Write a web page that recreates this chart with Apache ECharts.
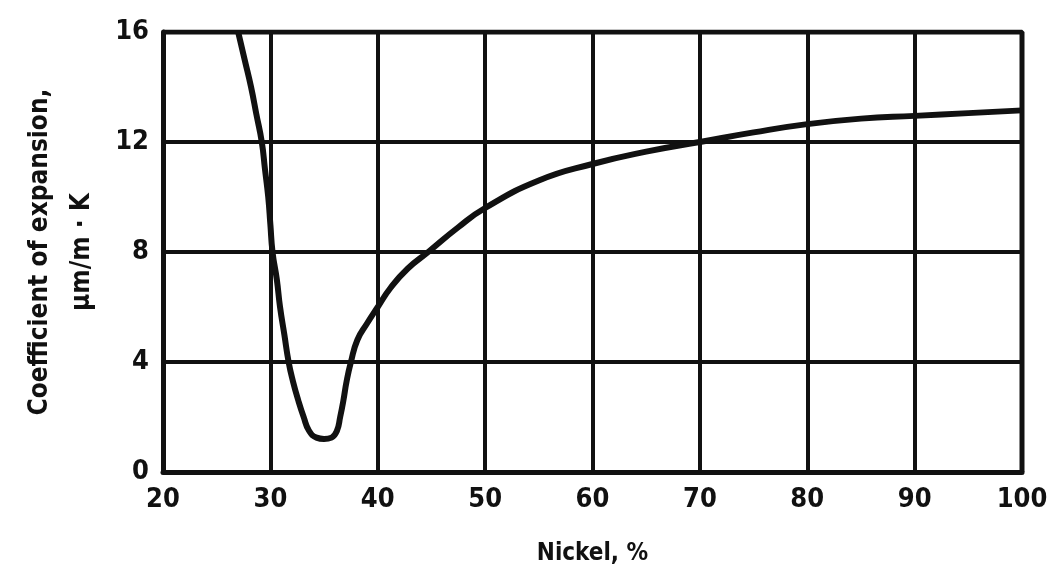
<!DOCTYPE html>
<html>
<head>
<meta charset="utf-8">
<script src="https://cdn.jsdelivr.net/npm/echarts@6/dist/echarts.min.js"></script>
<style>
  html, body { margin: 0; padding: 0; background: #fff; }
  #chart { width: 1063px; height: 585px; }
</style>
</head>
<body>
<div id="chart"></div>
<script>
// nickel content (%) and coefficient of expansion (um/m.K)
var nickel = [27.0, 27.6, 28.2, 28.7, 29.2, 29.5, 29.8, 30.0, 30.2, 30.6, 30.9, 31.3, 31.7, 32.1, 32.6, 33.1, 33.6, 34.3, 35.0, 35.7, 36.2, 36.5, 36.8, 37.1, 37.5, 38.1, 39.0, 40.0, 41.2, 42.8, 44.7, 47.5, 50, 55, 60, 65, 70, 75, 80, 85, 90, 95, 100];
var expansion = [16.0, 15.0, 14.0, 13.0, 12.0, 11.0, 10.0, 9.0, 8.0, 7.0, 6.0, 5.0, 4.0, 3.3, 2.6, 2.0, 1.5, 1.25, 1.2, 1.25, 1.5, 2.0, 2.6, 3.3, 4.0, 4.8, 5.4, 6.0, 6.7, 7.4, 8.0, 8.9, 9.6, 10.6, 11.2, 11.65, 12.0, 12.35, 12.65, 12.85, 12.95, 13.05, 13.15];
var xTicks = [20, 30, 40, 50, 60, 70, 80, 90, 100];
var yTicks = [0, 4, 8, 12, 16];

var font = 'Liberation Sans Narrow, DejaVu Sans Condensed, sans-serif';
var ink = '#111';

var chart = echarts.init(document.getElementById('chart'));
chart.setOption({
    animation: false,
    backgroundColor: '#fff',
    grid: {
        left: 163,
        right: 41,
        top: 32,
        bottom: 113,
        containLabel: false,
        outerBoundsMode: 'none'
    },
    xAxis: {
        type: 'value',
        min: xTicks[0],
        max: xTicks[xTicks.length - 1],
        interval: 10,
        name: 'Nickel, %',
        nameLocation: 'middle',
        nameGap: 70,
        nameTextStyle: { fontFamily: font, fontWeight: 'bold', fontSize: 24, color: ink },
        axisLine: { lineStyle: { color: ink, width: 5 } },
        axisTick: { show: false },
        axisLabel: { fontFamily: font, fontWeight: 'bold', fontSize: 27, color: ink, margin: 14 },
        splitLine: { show: true, lineStyle: { color: ink, width: 4 } }
    },
    yAxis: {
        type: 'value',
        min: yTicks[0],
        max: yTicks[yTicks.length - 1],
        interval: 4,
        name: 'Coefficient of expansion,\nμm/m · K',
        nameLocation: 'middle',
        nameGap: 60,
        nameTextStyle: { fontFamily: font, fontWeight: 'bold', fontSize: 26, color: ink, lineHeight: 42, align: 'center' },
        axisLine: { show: true, lineStyle: { color: ink, width: 5 } },
        axisTick: { show: false },
        axisLabel: { fontFamily: font, fontWeight: 'bold', fontSize: 27, color: ink, margin: 14 },
        splitLine: { show: true, lineStyle: { color: ink, width: 4 } }
    },
    series: [{
        type: 'line',
        data: nickel.map(function (n, i) { return [n, expansion[i]]; }),
        smooth: 0.5,
        showSymbol: false,
        lineStyle: { color: ink, width: 6 }
    }, {
        // top and right frame
        type: 'line',
        data: [[20, 16], [100, 16], [100, 0]],
        showSymbol: false,
        silent: true,
        lineStyle: { color: ink, width: 5 }
    }]
});
</script>
</body>
</html>
